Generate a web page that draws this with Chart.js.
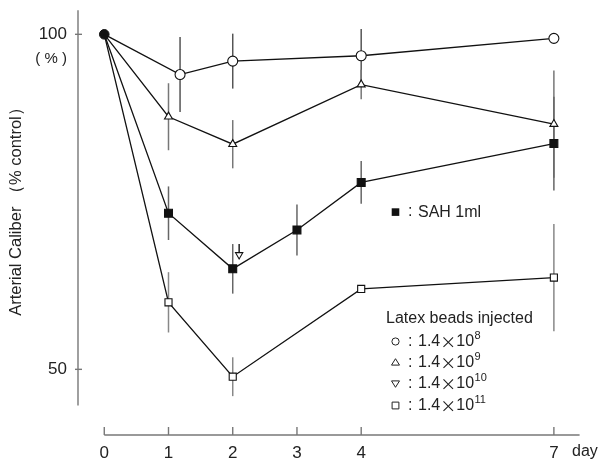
<!DOCTYPE html>
<html><head><meta charset="utf-8">
<script src="https://cdn.jsdelivr.net/npm/chart.js@4"></script>
<style>html,body{margin:0;padding:0;background:#fff}#wrap{width:599px;height:459px}</style>
</head><body><div id="wrap"><canvas id="c" width="599" height="459"></canvas></div>
<script>
// ---- data ----
const xTicks = [0, 1, 2, 3, 4, 7];
const yTicks = [100, 50];

const circDays = [0, 1.18, 2, 4, 7];
const circVals = [100, 94.0, 96.0, 96.8, 99.4];
const circErr  = [0, 5.6, 4.1, 4.0, 0];

const triDays = [0, 1, 2, 4, 7];
const triVals = [100, 87.7, 83.6, 92.5, 86.6];
const triErr  = [0, 5.0, 3.6, 2.2, 8.0];

const sahDays = [0, 1, 2, 3, 4, 7];
const sahVals = [100, 73.3, 65.0, 70.8, 77.9, 83.7];
const sahErr  = [0, 4.0, 3.7, 3.8, 3.2, 7.0];

const invDays = [2.1];
const invVals = [67.1];
const invErr  = [1.6];

const sqDays = [0, 1, 2, 4, 7];
const sqVals = [100, 60.0, 48.9, 62.0, 63.7];
const sqErr  = [0, 4.5, 2.9, 0, 8.0];

const originDay = [0];
const originVal = [100];

const legendTitle = 'Latex beads injected';
const legendLabels = ['8', '9', '10', '11'];
const sahLabel = 'SAH 1ml';
const yTitle = 'Arterial Caliber （% control）';

// ---- build ----
const pts = (xs, ys) => xs.map((v, i) => ({x: v, y: ys[i]}));
const FONT = '"Liberation Sans", Arial, sans-serif';
const CJK = '"Noto Sans CJK JP", "Liberation Sans", sans-serif';

function ds(label, xs, ys, errs, style, r, fill, opts) {
  return Object.assign({
    label, data: pts(xs, ys), errs, errColor: '#777',
    showLine: true, borderColor: '#111', borderWidth: 1.3,
    pointStyle: style,
    pointRadius: c => c.dataIndex === 0 && xs[0] === 0 ? 0 : r,
    pointBackgroundColor: fill, pointBorderColor: '#111', pointBorderWidth: 1.1,
    pointHoverRadius: r, tension: 0
  }, opts || {});
}

const datasets = [
  ds('circ', circDays, circVals, circErr, 'circle', 5, '#fff', {errColor: '#555'}),
  ds('tri', triDays, triVals, triErr, 'triangle', 4.6, '#fff', {errColor: '#777'}),
  ds('sah', sahDays, sahVals, sahErr, 'rect', 5.6, '#111', {errColor: '#666'}),
  ds('inv', invDays, invVals, invErr, 'triangle', 4.2, '#fff', {showLine: false, pointRotation: 180, upOnly: true, errColor: '#222'}),
  ds('sq', sqDays, sqVals, sqErr, 'rect', 5, '#fff', {errColor: '#888'}),
  {label: 'origin', data: pts(originDay, originVal), showLine: false, pointStyle: 'circle',
   pointRadius: 4.8, pointBackgroundColor: '#111', pointBorderColor: '#111', errs: [0]}
];

const deco = {
  id: 'deco',
  beforeDatasetsDraw(chart) {
    const {ctx, scales: {x, y}, chartArea} = chart;
    ctx.save();
    ctx.strokeStyle = '#777'; ctx.lineWidth = 1.4;
    // y axis
    const ax = chartArea.left;
    ctx.beginPath();
    ctx.moveTo(ax, y.getPixelForValue(103.6));
    ctx.lineTo(ax, y.getPixelForValue(44.6));
    ctx.stroke();
    yTicks.forEach(v => {
      const py = y.getPixelForValue(v);
      ctx.beginPath(); ctx.moveTo(ax - 3, py); ctx.lineTo(ax + 4, py); ctx.stroke();
    });
    // x axis
    const by = chartArea.bottom;
    ctx.beginPath();
    ctx.moveTo(x.getPixelForValue(0), by);
    ctx.lineTo(x.getPixelForValue(7.4), by);
    ctx.stroke();
    xTicks.forEach(v => {
      const px = x.getPixelForValue(v);
      ctx.beginPath(); ctx.moveTo(px, by); ctx.lineTo(px, by - 8); ctx.stroke();
    });
    // error bars
    ctx.lineWidth = 1.5;
    chart.data.datasets.forEach(d => {
      if (!d.errs) return;
      ctx.strokeStyle = d.errColor || '#777';
      d.data.forEach((p, i) => {
        const e = d.errs[i];
        if (!e) return;
        const px = x.getPixelForValue(p.x);
        ctx.beginPath();
        ctx.moveTo(px, y.getPixelForValue(p.y + e));
        ctx.lineTo(px, y.getPixelForValue(d.upOnly ? p.y : p.y - e));
        ctx.stroke();
      });
    });
    ctx.restore();
  },
  afterDraw(chart) {
    const {ctx, scales: {x, y}, chartArea} = chart;
    ctx.save();
    ctx.fillStyle = '#222';
    ctx.textBaseline = 'middle';
    // (%) under 100
    ctx.font = '15px ' + FONT;
    ctx.textAlign = 'right';
    ctx.fillText('( % )', 67, y.getPixelForValue(100) + 25);
    // day
    ctx.font = '16px ' + FONT;
    ctx.textAlign = 'left';
    ctx.fillText('day', 572, 452);
    // y title
    ctx.save();
    ctx.translate(16.5, 207.5);
    ctx.rotate(-Math.PI / 2);
    ctx.textAlign = 'center';
    ctx.font = '16.5px ' + FONT;
    ctx.fillText(yTitle, 0, 0);
    ctx.restore();

    // SAH legend
    ctx.fillStyle = '#111';
    ctx.fillRect(391.7, 208.3, 7.6, 7.6);
    ctx.fillStyle = '#222';
    ctx.font = '16px ' + FONT;
    ctx.textAlign = 'left';
    ctx.fillText(':', 408, 212);
    ctx.fillText(sahLabel, 418, 212.5);

    // Latex legend
    ctx.fillText(legendTitle, 386, 318.5);
    const rows = [341.5, 362.5, 383.5, 405.5];
    ctx.strokeStyle = '#222'; ctx.lineWidth = 1;
    rows.forEach((ry, i) => {
      const cx = 395.5;
      ctx.beginPath();
      if (i === 0) { ctx.arc(cx, ry, 3.6, 0, Math.PI * 2); }
      else if (i === 1) { ctx.moveTo(cx, ry - 3.8); ctx.lineTo(cx + 4, ry + 2.6); ctx.lineTo(cx - 4, ry + 2.6); ctx.closePath(); }
      else if (i === 2) { ctx.moveTo(cx, ry + 3.8); ctx.lineTo(cx + 4, ry - 2.6); ctx.lineTo(cx - 4, ry - 2.6); ctx.closePath(); }
      else { ctx.rect(cx - 3.4, ry - 3.4, 6.8, 6.8); }
      ctx.stroke();
      ctx.fillStyle = '#222';
      ctx.font = '16px ' + FONT;
      ctx.fillText(':', 408, ry);
      let tx = 418;
      ctx.fillText('1.4', tx, ry); tx += ctx.measureText('1.4').width;
      ctx.font = '16px ' + CJK;
      ctx.fillText('×', tx, ry); tx += ctx.measureText('×').width;
      ctx.font = '16px ' + FONT;
      ctx.fillText('10', tx, ry); tx += ctx.measureText('10').width + 0.5;
      ctx.font = '11px ' + FONT;
      ctx.fillText(legendLabels[i], tx, ry - 5.5);
    });
    ctx.restore();
  }
};

new Chart(document.getElementById('c'), {
  type: 'scatter',
  data: {datasets},
  options: {
    responsive: false, animation: false, devicePixelRatio: 1,
    layout: {padding: {left: 0, right: 13, top: 10, bottom: 0}},
    plugins: {legend: {display: false}, tooltip: {enabled: false}},
    scales: {
      x: {
        type: 'linear', min: -0.409, max: 7.5,
        grid: {display: false, drawTicks: false}, border: {display: false},
        afterBuildTicks: s => { s.ticks = xTicks.map(v => ({value: v})); },
        afterFit: s => { s.height = 24; s.paddingLeft = 0; s.paddingRight = 0; },
        ticks: {padding: 8.5, color: '#222', font: {family: FONT, size: 17}, autoSkip: false, maxRotation: 0,
                callback: v => String(v)}
      },
      y: {
        type: 'linear', min: 40.2, max: 103.63,
        grid: {display: false, drawTicks: false}, border: {display: false},
        afterBuildTicks: s => { s.ticks = yTicks.map(v => ({value: v})); },
        afterFit: s => { s.width = 78; s.paddingTop = 0; s.paddingBottom = 0; },
        ticks: {padding: 11, color: '#222', font: {family: FONT, size: 17}, callback: v => String(v)}
      }
    }
  },
  plugins: [deco]
});
</script></body></html>
